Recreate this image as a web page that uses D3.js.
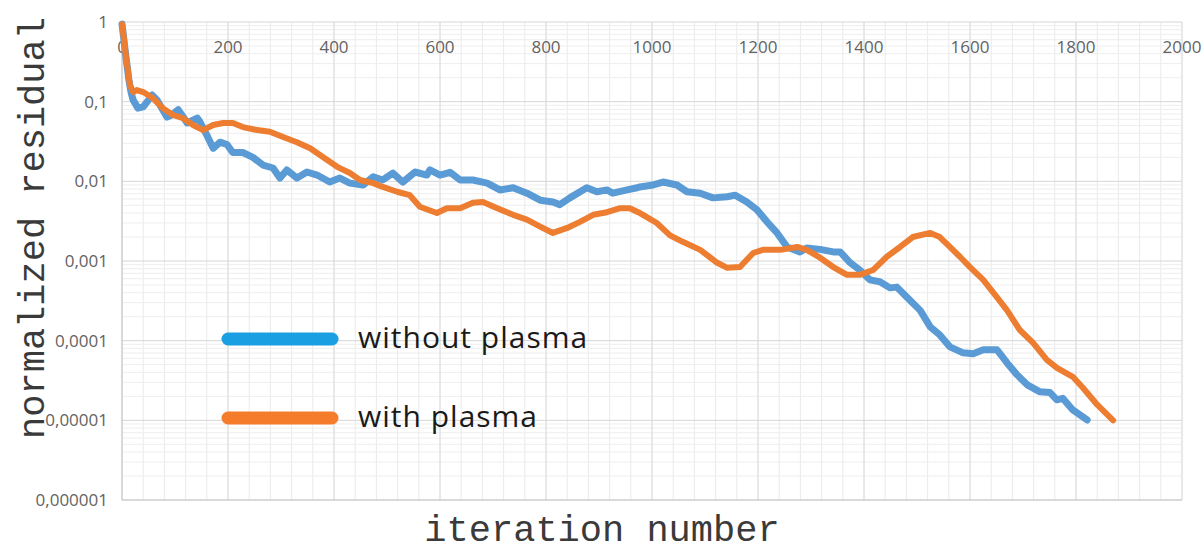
<!DOCTYPE html>
<html>
<head>
<meta charset="utf-8">
<script src="https://cdn.jsdelivr.net/npm/d3@7"></script>
<style>
  body { margin: 0; background: #fff; }
  svg { display: block; }
</style>
</head>
<body>
<svg width="1203" height="551"></svg>
<script>
// values (iteration number, normalized residual)
const blueIter = [0, 7, 13, 17, 21, 30, 40, 57, 66, 85, 94, 106, 113, 123, 142, 147, 160, 172, 185, 198, 209, 228, 247, 266, 285, 298, 311, 330, 349, 368, 392, 411, 430, 455, 474, 492, 511, 530, 553, 575, 581, 600, 619, 638, 662, 689, 713, 738, 764, 789, 813, 826, 845, 877, 896, 915, 926, 953, 972, 977, 1002, 1021, 1047, 1066, 1091, 1115, 1142, 1157, 1179, 1198, 1217, 1236, 1255, 1279, 1292, 1317, 1342, 1355, 1374, 1392, 1411, 1430, 1449, 1462, 1481, 1506, 1525, 1543, 1562, 1587, 1606, 1625, 1651, 1670, 1689, 1708, 1732, 1751, 1764, 1775, 1794, 1821];
const blueRes = [0.94, 0.385, 0.187, 0.132, 0.105, 0.083, 0.086, 0.121, 0.105, 0.064, 0.068, 0.079, 0.068, 0.054, 0.062, 0.056, 0.038, 0.026, 0.031, 0.029, 0.023, 0.023, 0.020, 0.016, 0.0147, 0.011, 0.0139, 0.011, 0.0131, 0.012, 0.0098, 0.011, 0.0095, 0.009, 0.0114, 0.0104, 0.0127, 0.0098, 0.0131, 0.012, 0.0139, 0.012, 0.013, 0.0104, 0.0104, 0.0095, 0.0078, 0.0083, 0.0071, 0.0058, 0.0055, 0.0051, 0.0062, 0.0083, 0.0074, 0.0078, 0.0071, 0.0078, 0.0083, 0.0085, 0.009, 0.0098, 0.009, 0.0074, 0.0071, 0.0062, 0.0064, 0.0067, 0.0055, 0.0044, 0.0031, 0.00225, 0.0015, 0.0013, 0.00146, 0.0014, 0.0013, 0.0013, 0.00095, 0.00077, 0.00058, 0.00055, 0.00046, 0.00047, 0.00035, 0.00024, 0.000149, 0.000118, 0.0000836, 0.0000703, 0.0000686, 0.0000767, 0.0000767, 0.0000526, 0.0000372, 0.0000279, 0.0000228, 0.0000223, 0.0000181, 0.0000189, 0.0000135, 0.0000101];

const orangeIter = [0, 4, 7, 11, 15, 21, 28, 40, 58, 77, 96, 115, 134, 153, 172, 191, 209, 228, 255, 279, 304, 330, 355, 379, 406, 430, 449, 474, 492, 519, 543, 562, 594, 613, 638, 662, 681, 708, 738, 764, 789, 813, 840, 864, 889, 915, 940, 958, 974, 983, 1009, 1034, 1058, 1091, 1123, 1142, 1166, 1191, 1209, 1242, 1274, 1292, 1317, 1342, 1368, 1392, 1417, 1443, 1468, 1492, 1525, 1543, 1562, 1581, 1600, 1625, 1651, 1670, 1694, 1719, 1745, 1764, 1794, 1813, 1840, 1870];
const orangeRes = [0.94, 0.59, 0.385, 0.25, 0.162, 0.132, 0.14, 0.132, 0.111, 0.083, 0.068, 0.062, 0.051, 0.044, 0.051, 0.054, 0.054, 0.048, 0.044, 0.042, 0.036, 0.031, 0.026, 0.0202, 0.0152, 0.0127, 0.0104, 0.0095, 0.0085, 0.0074, 0.0067, 0.0048, 0.004, 0.0046, 0.0046, 0.0054, 0.0055, 0.0046, 0.0038, 0.0033, 0.0027, 0.00225, 0.0026, 0.0031, 0.0038, 0.0041, 0.0046, 0.0046, 0.0041, 0.0038, 0.003, 0.0021, 0.00174, 0.00138, 0.00095, 0.00082, 0.00084, 0.00126, 0.00138, 0.00138, 0.0015, 0.00138, 0.0011, 0.00084, 0.00067, 0.00067, 0.00077, 0.00113, 0.0015, 0.002, 0.00225, 0.002, 0.0015, 0.00113, 0.00084, 0.00058, 0.00035, 0.00024, 0.000136, 0.0000938, 0.0000574, 0.0000456, 0.0000352, 0.0000256, 0.0000157, 0.00001];

const xTicks = [0, 200, 400, 600, 800, 1000, 1200, 1400, 1600, 1800, 2000];
const yTicks = [1, 0.1, 0.01, 0.001, 0.0001, 0.00001, 0.000001];
const yTickLabels = ['1', '0,1', '0,01', '0,001', '0,0001', '0,00001', '0,000001'];
const seriesNames = ['without plasma', 'with plasma'];

const svg = d3.select('svg');
const plotLeft = 122, plotRight = 1182, plotTop = 22, plotBottom = 500;

const x = d3.scaleLinear().domain([0, 2000]).range([plotLeft, plotRight]);
const y = d3.scaleLog().domain([0.000001, 1]).range([plotBottom, plotTop]);

// minor grid
const minorX = d3.range(0, 2001, 40);
const minorY = [];
yTicks.slice(1).forEach(function (d) {
  for (let k = 2; k <= 9; k++) minorY.push(d * k);
});

svg.append('g')
  .selectAll('line')
  .data(minorX)
  .join('line')
  .attr('x1', d => x(d)).attr('x2', d => x(d))
  .attr('y1', plotTop).attr('y2', plotBottom)
  .attr('stroke', '#eaeaea').attr('stroke-width', 1);

svg.append('g')
  .selectAll('line')
  .data(minorY)
  .join('line')
  .attr('x1', plotLeft).attr('x2', plotRight)
  .attr('y1', d => y(d)).attr('y2', d => y(d))
  .attr('stroke', '#eeeeee').attr('stroke-width', 1);

// major grid
svg.append('g')
  .selectAll('line')
  .data(xTicks)
  .join('line')
  .attr('x1', d => x(d)).attr('x2', d => x(d))
  .attr('y1', plotTop).attr('y2', plotBottom)
  .attr('stroke', '#dcdcdc').attr('stroke-width', 1);

svg.append('g')
  .selectAll('line')
  .data(yTicks)
  .join('line')
  .attr('x1', plotLeft).attr('x2', plotRight)
  .attr('y1', d => y(d)).attr('y2', d => y(d))
  .attr('stroke', '#d6d6d6').attr('stroke-width', 1);

// axis lines
svg.append('line')
  .attr('x1', plotLeft).attr('x2', plotLeft).attr('y1', plotTop).attr('y2', plotBottom)
  .attr('stroke', '#c8c8c8');
svg.append('line')
  .attr('x1', plotLeft).attr('x2', plotRight).attr('y1', plotBottom).attr('y2', plotBottom)
  .attr('stroke', '#c8c8c8');

// tick labels
svg.append('g')
  .selectAll('text')
  .data(xTicks)
  .join('text')
  .attr('x', d => x(d))
  .attr('y', 53)
  .attr('text-anchor', 'middle')
  .attr('font-family', 'Open Sans, sans-serif')
  .attr('font-size', 17)
  .attr('fill', '#636363')
  .text(d => d);

svg.append('g')
  .selectAll('text')
  .data(yTicks)
  .join('text')
  .attr('x', 108)
  .attr('y', d => y(d) + 6)
  .attr('text-anchor', 'end')
  .attr('font-family', 'Open Sans, sans-serif')
  .attr('font-size', 17)
  .attr('fill', '#636363')
  .text((d, i) => yTickLabels[i]);

// series
const line = d3.line()
  .x(d => x(d[0]))
  .y(d => y(d[1]))
  .curve(d3.curveLinear);

const blue = blueIter.map((d, i) => [d, blueRes[i]]);
const orange = orangeIter.map((d, i) => [d, orangeRes[i]]);

svg.append('path')
  .attr('d', line(blue))
  .attr('fill', 'none')
  .attr('stroke', '#5b9bd5')
  .attr('stroke-width', 7)
  .attr('stroke-linejoin', 'round')
  .attr('stroke-linecap', 'round');

svg.append('path')
  .attr('d', line(orange))
  .attr('fill', 'none')
  .attr('stroke', '#ed7d31')
  .attr('stroke-width', 6)
  .attr('stroke-linejoin', 'round')
  .attr('stroke-linecap', 'round');

// legend
const legendColors = ['#1a9fe3', '#f57c2a'];
const legendY = [339, 418];
const legendG = svg.append('g');
legendG.selectAll('line')
  .data(seriesNames)
  .join('line')
  .attr('x1', 228).attr('x2', 332)
  .attr('y1', (d, i) => legendY[i]).attr('y2', (d, i) => legendY[i])
  .attr('stroke', (d, i) => legendColors[i])
  .attr('stroke-width', 13)
  .attr('stroke-linecap', 'round');
legendG.selectAll('text')
  .data(seriesNames)
  .join('text')
  .attr('x', 358)
  .attr('y', (d, i) => legendY[i] + 9)
  .attr('font-family', 'Open Sans, sans-serif')
  .attr('font-size', 30)
  .attr('letter-spacing', 1)
  .attr('fill', '#1a1a1a')
  .text(d => d);

// axis titles
svg.append('text')
  .attr('x', 602)
  .attr('y', 541)
  .attr('text-anchor', 'middle')
  .attr('font-family', 'Liberation Mono, monospace')
  .attr('font-size', 37)
  .attr('fill', '#3a3a3a')
  .text('iteration number');

svg.append('text')
  .attr('transform', 'translate(44,228) rotate(-90)')
  .attr('text-anchor', 'middle')
  .attr('font-family', 'Liberation Mono, monospace')
  .attr('font-size', 37)
  .attr('fill', '#3a3a3a')
  .text('normalized residual');
</script>
</body>
</html>
